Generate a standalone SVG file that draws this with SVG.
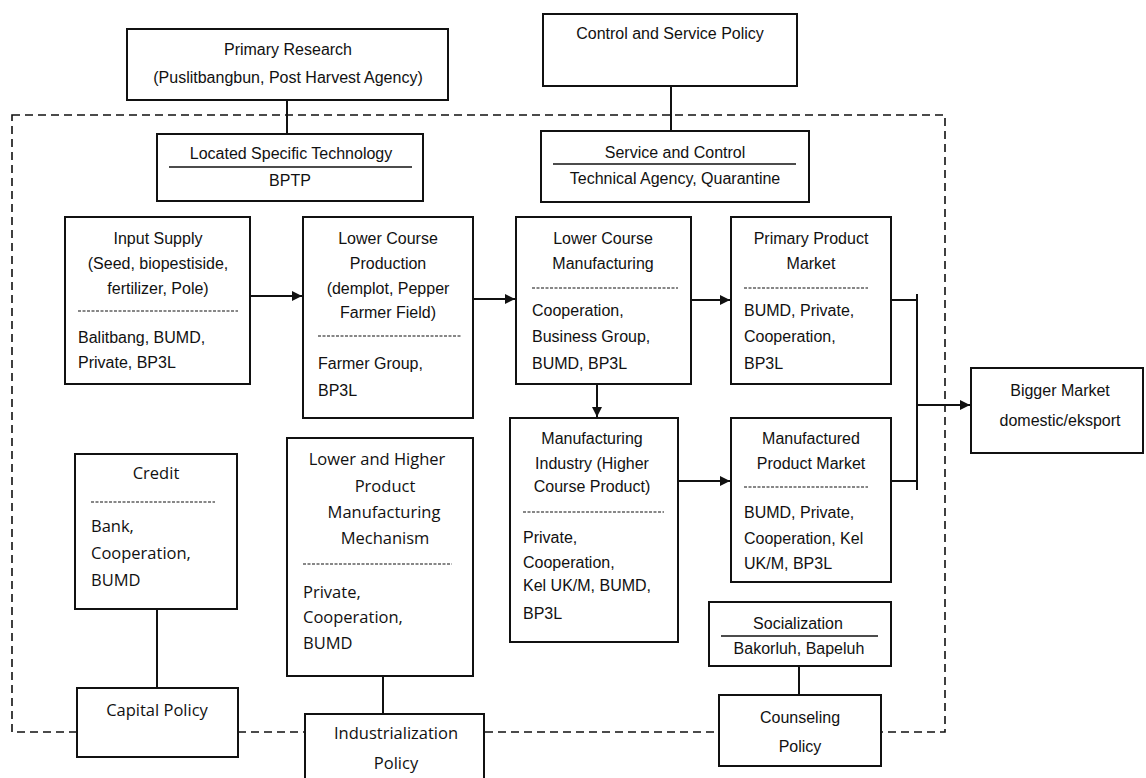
<svg xmlns="http://www.w3.org/2000/svg" width="1146" height="778" viewBox="0 0 1146 778">
<style>
.box{fill:#fff;stroke:#111;stroke-width:2}
.t{font-family:"Liberation Sans",Arial,sans-serif;font-size:16px;fill:#111}
.c{font-family:"Open Sans","Noto Sans",sans-serif;font-size:16.5px;fill:#111}
.m{text-anchor:middle}
.sep{stroke:#111;stroke-width:1.5}
.dsep{stroke:#111;stroke-width:1.2;stroke-dasharray:3 1.5}
.ln{stroke:#111;stroke-width:2;fill:none}
.dash{stroke:#111;stroke-width:1.6;fill:none;stroke-dasharray:8 5}
</style>
<defs>
<marker id="ah" viewBox="0 0 10 10" refX="10" refY="5" markerWidth="10" markerHeight="10" markerUnits="userSpaceOnUse" orient="auto">
<path d="M0,0 L10,5 L0,10 z" fill="#111"/>
</marker>
</defs>
<rect width="1146" height="778" fill="#fff"/>
<rect x="12" y="115" width="933" height="617" class="dash"/>
<g id="connectors">
<line x1="287" y1="100" x2="287" y2="134" class="ln"/>
<line x1="671" y1="86" x2="671" y2="131" class="ln"/>
<line x1="250" y1="296" x2="302" y2="296" class="ln" marker-end="url(#ah)"/>
<line x1="473" y1="299" x2="515" y2="299" class="ln" marker-end="url(#ah)"/>
<line x1="691" y1="300" x2="730" y2="300" class="ln" marker-end="url(#ah)"/>
<line x1="597" y1="367" x2="597" y2="417" class="ln" marker-end="url(#ah)"/>
<line x1="678" y1="481" x2="730" y2="481" class="ln" marker-end="url(#ah)"/>
<line x1="891" y1="300" x2="917" y2="300" class="ln"/>
<line x1="891" y1="481" x2="917" y2="481" class="ln"/>
<line x1="917" y1="294" x2="917" y2="490" class="ln"/>
<line x1="917" y1="405" x2="970" y2="405" class="ln" marker-end="url(#ah)"/>
<line x1="157" y1="609" x2="157" y2="688" class="ln"/>
<line x1="383" y1="676" x2="383" y2="714" class="ln"/>
<line x1="799" y1="650" x2="799" y2="695" class="ln"/>
</g>
<g id="primary-research">
<rect x="127" y="29" width="321" height="71" class="box"/>
<text x="288" y="55" class="t m">Primary Research</text>
<text x="288" y="83" class="t m">(Puslitbangbun, Post Harvest Agency)</text>
</g>
<g id="located-tech">
<rect x="157" y="134" width="266" height="67" class="box"/>
<text x="291" y="159" class="t m">Located Specific Technology</text>
<line x1="169" y1="167" x2="412" y2="167" class="sep"/>
<text x="290" y="186" class="t m">BPTP</text>
</g>
<g id="control-policy">
<rect x="543" y="14" width="254" height="72" class="box"/>
<text x="670" y="39" class="t m">Control and Service Policy</text>
</g>
<g id="service-control">
<rect x="541" y="131" width="268" height="71" class="box"/>
<text x="675" y="158" class="t m">Service and Control</text>
<line x1="553" y1="164" x2="796" y2="164" class="sep"/>
<text x="675" y="184" class="t m">Technical Agency, Quarantine</text>
</g>
<g id="input-supply">
<rect x="65" y="217" width="185" height="167" class="box"/>
<text x="158" y="244" class="t m">Input Supply</text>
<text x="158" y="269" class="t m">(Seed, biopestiside,</text>
<text x="158" y="294" class="t m">fertilizer, Pole)</text>
<line x1="78" y1="311" x2="238" y2="311" class="dsep"/>
<text x="78" y="343" class="t">Balitbang, BUMD,</text>
<text x="78" y="368" class="t">Private, BP3L</text>
</g>
<g id="lower-course-production">
<rect x="303" y="217" width="170" height="201" class="box"/>
<text x="388" y="244" class="t m">Lower Course</text>
<text x="388" y="269" class="t m">Production</text>
<text x="388" y="294" class="t m">(demplot, Pepper</text>
<text x="388" y="318" class="t m">Farmer Field)</text>
<line x1="318" y1="336" x2="461" y2="336" class="dsep"/>
<text x="318" y="369" class="t">Farmer Group,</text>
<text x="318" y="396" class="t">BP3L</text>
</g>
<g id="lower-course-manufacturing">
<rect x="516" y="217" width="175" height="167" class="box"/>
<text x="603" y="244" class="t m">Lower Course</text>
<text x="603" y="269" class="t m">Manufacturing</text>
<line x1="532" y1="288" x2="678" y2="288" class="dsep"/>
<text x="532" y="316" class="t">Cooperation,</text>
<text x="532" y="342" class="t">Business Group,</text>
<text x="532" y="369" class="t">BUMD, BP3L</text>
</g>
<g id="primary-product-market">
<rect x="731" y="217" width="160" height="167" class="box"/>
<text x="811" y="244" class="t m">Primary Product</text>
<text x="811" y="269" class="t m">Market</text>
<line x1="744" y1="288" x2="868" y2="288" class="dsep"/>
<text x="744" y="316" class="t">BUMD, Private,</text>
<text x="744" y="342" class="t">Cooperation,</text>
<text x="744" y="369" class="t">BP3L</text>
</g>
<g id="bigger-market">
<rect x="971" y="368" width="172" height="85" class="box"/>
<text x="1060" y="396" class="t m">Bigger Market</text>
<text x="1060" y="426" class="t m">domestic/eksport</text>
</g>
<g id="manufacturing-industry">
<rect x="510" y="418" width="168" height="224" class="box"/>
<text x="592" y="444" class="t m">Manufacturing</text>
<text x="592" y="469" class="t m">Industry (Higher</text>
<text x="592" y="492" class="t m">Course Product)</text>
<line x1="523" y1="512" x2="664" y2="512" class="dsep"/>
<text x="523" y="543" class="t">Private,</text>
<text x="523" y="568" class="t">Cooperation,</text>
<text x="523" y="591" class="t">Kel UK/M, BUMD,</text>
<text x="523" y="619" class="t">BP3L</text>
</g>
<g id="manufactured-product-market">
<rect x="731" y="418" width="160" height="164" class="box"/>
<text x="811" y="444" class="t m">Manufactured</text>
<text x="811" y="469" class="t m">Product Market</text>
<line x1="744" y1="487" x2="868" y2="487" class="dsep"/>
<text x="744" y="518" class="t">BUMD, Private,</text>
<text x="744" y="544" class="t">Cooperation, Kel</text>
<text x="744" y="569" class="t">UK/M, BP3L</text>
</g>
<g id="credit">
<rect x="75" y="454" width="162" height="155" class="box"/>
<text x="156" y="479" class="c m">Credit</text>
<line x1="91" y1="502" x2="215" y2="502" class="dsep"/>
<text x="91" y="532" class="c">Bank,</text>
<text x="91" y="559" class="c">Cooperation,</text>
<text x="91" y="586" class="c">BUMD</text>
</g>
<g id="capital-policy">
<rect x="77" y="688" width="161" height="69" class="box"/>
<text x="157" y="716" class="c m">Capital Policy</text>
</g>
<g id="manufacturing-mechanism">
<rect x="287" y="438" width="186" height="238" class="box"/>
<text x="377" y="465" class="c m">Lower and Higher</text>
<text x="385" y="492" class="c m">Product</text>
<text x="384" y="518" class="c m">Manufacturing</text>
<text x="385" y="544" class="c m">Mechanism</text>
<line x1="303" y1="564" x2="452" y2="564" class="dsep"/>
<text x="303" y="598" class="c">Private,</text>
<text x="303" y="623" class="c">Cooperation,</text>
<text x="303" y="649" class="c">BUMD</text>
</g>
<g id="industrialization-policy">
<rect x="305" y="714" width="179" height="70" class="box"/>
<text x="396" y="739" class="c m">Industrialization</text>
<text x="396" y="769" class="c m">Policy</text>
</g>
<g id="socialization">
<rect x="709" y="602" width="182" height="64" class="box"/>
<text x="798" y="629" class="t m">Socialization</text>
<line x1="721" y1="636" x2="878" y2="636" class="sep"/>
<text x="799" y="654" class="t m">Bakorluh, Bapeluh</text>
</g>
<g id="counseling-policy">
<rect x="719" y="695" width="162" height="71" class="box"/>
<text x="800" y="723" class="t m">Counseling</text>
<text x="800" y="752" class="t m">Policy</text>
</g>
</svg>
